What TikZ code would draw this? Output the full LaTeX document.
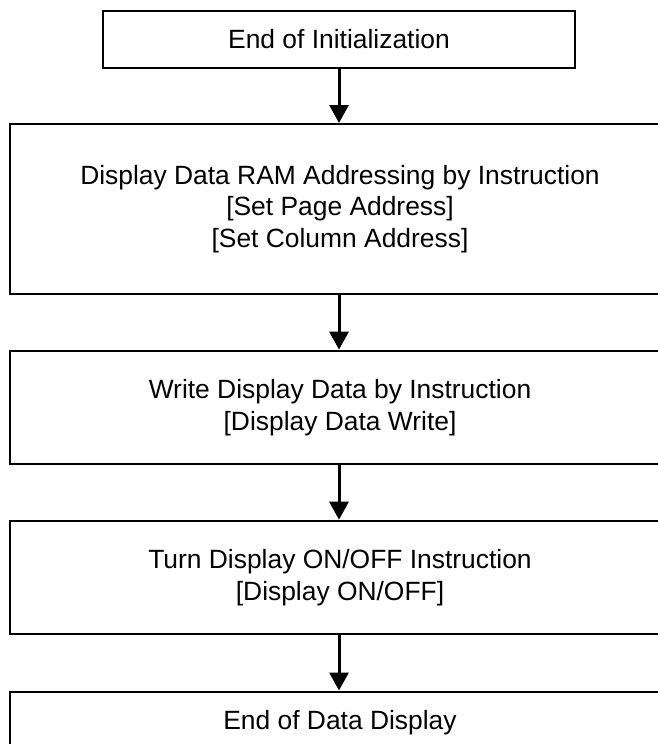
\documentclass[tikz,border=0pt]{standalone}
\usepackage{fontspec}
\setmainfont{Liberation Sans}
\usetikzlibrary{arrows.meta}
\tikzset{
  box/.style={draw=black, line width=1pt, inner sep=0pt, align=center,
    font=\fontsize{13.2}{15.9}\selectfont},
  flow/.style={line width=1.5pt, -{Triangle[length=9pt,width=9.5pt]}}
}
\begin{document}
\begin{tikzpicture}[x=0.5pt,y=-0.5pt]
\useasboundingbox (0,0) rectangle (658,744);
\clip (0,0) rectangle (658,744);
\node[box, minimum width=236pt, minimum height=28.3pt] (b1) at (339,39.3) {End of Initialization};
\node[box, minimum width=330pt, minimum height=85pt] (b2) at (340,209) {Display Data RAM Addressing by Instruction\\{[Set Page Address]}\\{[Set Column Address]}};
\node[box, minimum width=330pt, minimum height=56.7pt] (b3) at (340,407.3) {Write Display Data by Instruction\\{[Display Data Write]}};
\node[box, minimum width=330pt, minimum height=56.8pt] (b4) at (340,577.5) {Turn Display ON/OFF Instruction\\{[Display ON/OFF]}};
\node[box, minimum width=330pt, minimum height=31pt] (b5) at (340,722.5) {End of Data Display};
\draw[flow] (b1.south) -- (b1.south |- b2.north);
\draw[flow] (b1.south |- b2.south) -- (b1.south |- b3.north);
\draw[flow] (b1.south |- b3.south) -- (b1.south |- b4.north);
\draw[flow] (b1.south |- b4.south) -- (b1.south |- b5.north);
\end{tikzpicture}
\end{document}
